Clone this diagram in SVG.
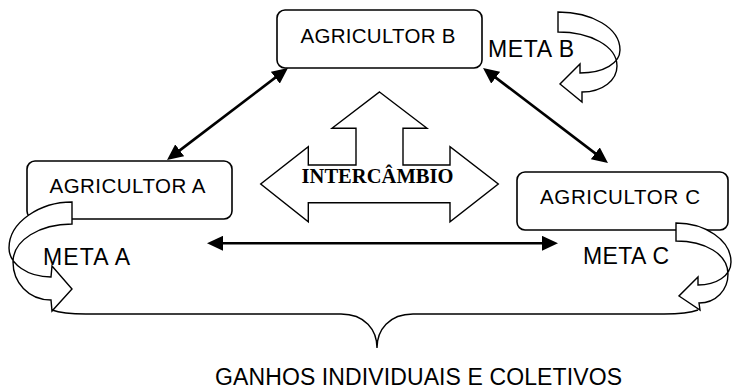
<svg xmlns="http://www.w3.org/2000/svg" width="733" height="390" viewBox="0 0 733 390">
  <style>
    .box { fill: #ffffff; stroke: #000000; stroke-width: 1.6; }
    .shape { fill: #ffffff; stroke: #000000; stroke-width: 1.4; stroke-linejoin: miter; }
    .conn { fill: none; stroke: #000000; stroke-width: 2.6; }
    .lbl { font-family: "Liberation Sans", Arial, sans-serif; fill: #000000; }
    .node { font-size: 20.5px; text-anchor: middle; }
    .meta { font-size: 23px; }
    .inter { font-family: "Liberation Serif", "Times New Roman", serif; font-weight: bold; font-size: 20.5px; text-anchor: middle; fill: #000000; }
  </style>
  <defs>
    <marker id="ah" viewBox="0 0 16 15" refX="12" refY="7.5" markerWidth="16" markerHeight="15" markerUnits="userSpaceOnUse" orient="auto-start-reverse">
      <path d="M0,0 L16,7.5 L0,15 Z" fill="#000000"/>
    </marker>
  </defs>
  <rect width="733" height="390" fill="#ffffff"/>

  <g id="agricultor-b">
    <rect class="box" x="277" y="10" width="205" height="58" rx="8"/>
    <text class="lbl node" x="378" y="43" textLength="155">AGRICULTOR B</text>
  </g>
  <g id="agricultor-a">
    <rect class="box" x="27" y="161" width="205" height="58" rx="8"/>
    <text class="lbl node" x="127.5" y="193" textLength="156">AGRICULTOR A</text>
  </g>
  <g id="agricultor-c">
    <rect class="box" x="517" y="172" width="211" height="58" rx="8"/>
    <text class="lbl node" x="620" y="204" textLength="160">AGRICULTOR C</text>
  </g>

  <g id="intercambio">
    <polygon class="shape" points="379.5,92 427,128.3 403,128.3 403,165 450,165 450,146.7 498.3,184 450,221.7 450,202.7 308.3,202.7 308.3,221.7 260.7,184 308.3,146.7 308.3,165 356,165 356,128.3 332,128.3"/>
    <text class="inter" x="377.5" y="183" textLength="152">INTERCÂMBIO</text>
  </g>

  <g id="meta-a">
    <path class="shape" d="M72,202 C40,202 9,222 9,248 C9,264 28,277 51,277 L52,266 L72,289 L52,311 L51,300 C28,300 13,282 13,262 C13,240 40,224 72,224 Z"/>
    <text class="lbl meta" x="43" y="265" textLength="87">META A</text>
  </g>
  <g id="meta-b">
    <path class="shape" d="M558,12 C592,12 620,28 620,50 C620,63 604,73 580,73 L580,64 L560,84 L582,102 L582,92 C603,92 617,80 617,66 C617,46 590,32 558,32 Z"/>
    <text class="lbl meta" x="488" y="57" textLength="86">META B</text>
  </g>
  <g id="meta-c">
    <path class="shape" d="M676,223 C705,223 731,240 731,262 C731,276 716,285 698,285 L698,277 L679,296 L700,310 L699,303 C716,303 728,290 728,274 C728,254 705,241 676,241 Z"/>
    <text class="lbl meta" x="583" y="264" textLength="86">META C</text>
  </g>

  <g id="connectors">
    <line class="conn" x1="170.2" y1="157.6" x2="284.8" y2="70.4" marker-start="url(#ah)" marker-end="url(#ah)"/>
    <line class="conn" x1="486.2" y1="70.4" x2="604.8" y2="160.6" marker-start="url(#ah)" marker-end="url(#ah)"/>
    <line class="conn" x1="211" y1="243.3" x2="554" y2="243.3" marker-start="url(#ah)" marker-end="url(#ah)"/>
  </g>

  <g id="ganhos">
    <path class="shape" style="fill:none" d="M52,310 C60,313 70,314 86,314 L341,314 C365,314 377,330 377,348 C377,330 389,314 413,314 L664,314 C680,314 690,313 698,310"/>
    <text class="lbl meta" x="215" y="385" textLength="407">GANHOS INDIVIDUAIS E COLETIVOS</text>
  </g>
</svg>
